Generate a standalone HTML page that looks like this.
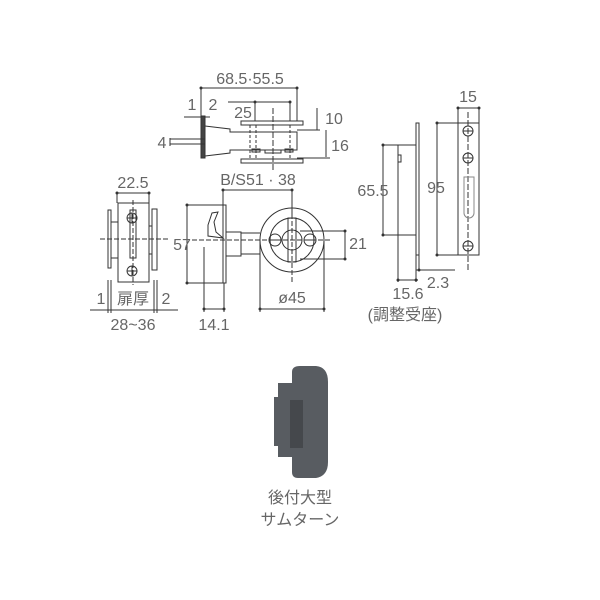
<!DOCTYPE html>
<html><head><meta charset="utf-8"><style>
html,body{margin:0;padding:0;background:#fff}
svg{display:block}
text{font-family:"Liberation Sans","Noto Sans CJK JP",sans-serif;fill:#666;font-size:16px}
</style></head><body>
<svg width="600" height="600" viewBox="0 0 600 600" xmlns="http://www.w3.org/2000/svg">
<g stroke="#333" stroke-width="1" fill="none">
<line x1="201" y1="88" x2="297" y2="88"/><line x1="201" y1="88" x2="201" y2="116"/><line x1="297" y1="88" x2="297" y2="121"/>
<line x1="228" y1="102" x2="290" y2="102"/><line x1="255" y1="102" x2="255" y2="121"/><line x1="290" y1="102" x2="290" y2="121"/>
<line x1="184" y1="117" x2="210" y2="117"/>
<rect x="201" y="116" width="4" height="42" fill="#444"/>
<rect x="170" y="139" width="35" height="5"/>
<rect x="241" y="121" width="62" height="4"/>
<rect x="241" y="159" width="62" height="4"/>
<path d="M205 126 L230 129 L230 132 L297 132 L297 150 L230 150 L230 153 L205 156"/>
<line x1="250" y1="125" x2="250" y2="159" stroke-dasharray="3,2"/><line x1="256" y1="125" x2="256" y2="159" stroke-dasharray="3,2"/>
<line x1="273" y1="108" x2="273" y2="170" stroke-dasharray="6,2"/><line x1="290" y1="125" x2="290" y2="159" stroke-dasharray="3,2"/>
<rect x="252" y="149" width="8" height="3"/><rect x="265" y="150" width="16" height="3"/><rect x="285" y="149" width="8" height="3"/>
<line x1="297" y1="130" x2="320" y2="130"/><line x1="297" y1="158" x2="330" y2="158"/>
<line x1="317" y1="108" x2="317" y2="130"/><line x1="326" y1="130" x2="326" y2="158" stroke="#999" stroke-width="2"/>
<line x1="170" y1="138" x2="170" y2="146"/>
<line x1="117" y1="193" x2="149" y2="193"/><line x1="117" y1="193" x2="117" y2="203"/><line x1="149" y1="193" x2="149" y2="203"/>
<rect x="108" y="210" width="3" height="58"/>
<rect x="111" y="222" width="7" height="36"/>
<rect x="118" y="203" width="31" height="79"/>
<rect x="149" y="226" width="3" height="28"/>
<rect x="152" y="209" width="5" height="61"/>
<rect x="130" y="210" width="6" height="48"/>
<circle cx="132" cy="218" r="5"/><line x1="127" y1="218" x2="137" y2="218"/><line x1="132" y1="213" x2="132" y2="223"/>
<circle cx="132" cy="271" r="5"/><line x1="127" y1="271" x2="137" y2="271"/><line x1="132" y1="266" x2="132" y2="276"/>
<line x1="100" y1="239" x2="168" y2="239" stroke-dasharray="5,2"/>
<line x1="133" y1="200" x2="133" y2="285" stroke-dasharray="5,2"/>
<line x1="108" y1="280" x2="108" y2="313"/><line x1="111" y1="280" x2="111" y2="313"/><line x1="154" y1="280" x2="154" y2="313"/><line x1="157" y1="280" x2="157" y2="313"/>
<line x1="90" y1="310" x2="178" y2="310"/>
<line x1="223" y1="190" x2="292" y2="190"/><line x1="223" y1="190" x2="223" y2="205"/><line x1="292" y1="190" x2="292" y2="215"/>
<rect x="223" y="205" width="3" height="78"/>
<path d="M208 225 L212 213 L218 212 L214 222 L216 232 L223 238 L208 236 Z"/>
<rect x="226" y="232" width="15" height="24"/>
<line x1="241" y1="233" x2="260" y2="233"/><line x1="241" y1="254" x2="260" y2="254"/>
<circle cx="292" cy="240" r="32"/><circle cx="292" cy="240" r="22"/>
<circle cx="292" cy="240" r="10"/>
<rect x="288" y="218" width="8" height="44"/>
<circle cx="275" cy="240" r="6"/><circle cx="310" cy="240" r="6"/>
<line x1="269" y1="240" x2="281" y2="240"/><line x1="304" y1="240" x2="316" y2="240"/>
<line x1="192" y1="240" x2="330" y2="240" stroke-dasharray="5,2"/>
<line x1="292" y1="200" x2="292" y2="282" stroke-dasharray="5,2"/>
<line x1="187" y1="205" x2="223" y2="205"/><line x1="187" y1="283" x2="223" y2="283"/><line x1="187" y1="205" x2="187" y2="283"/>
<line x1="300" y1="231" x2="346" y2="231"/><line x1="300" y1="259" x2="346" y2="259"/><line x1="345" y1="231" x2="345" y2="259"/>
<line x1="260" y1="240" x2="260" y2="312"/><line x1="324" y1="240" x2="324" y2="312"/><line x1="260" y1="309" x2="324" y2="309"/>
<line x1="204" y1="247" x2="204" y2="312"/><line x1="224" y1="283" x2="224" y2="312"/><line x1="204" y1="309" x2="224" y2="309"/>
<rect x="416" y="123" width="3" height="132"/>
<path d="M416 145 L398 145 L398 235 L416 235"/>
<rect x="398" y="155" width="3" height="7"/>
<line x1="383" y1="145" x2="398" y2="145"/><line x1="383" y1="235" x2="398" y2="235"/><line x1="383" y1="145" x2="383" y2="235" stroke="#999" stroke-width="2"/>
<line x1="398" y1="235" x2="398" y2="282"/><line x1="416" y1="255" x2="416" y2="282"/><line x1="419" y1="255" x2="419" y2="270"/>
<line x1="398" y1="280" x2="418" y2="280"/><line x1="416" y1="270" x2="455" y2="270"/>
<line x1="437" y1="123" x2="458" y2="123"/><line x1="437" y1="255" x2="458" y2="255"/><line x1="437" y1="123" x2="437" y2="255"/>
<rect x="458" y="123" width="21" height="132"/>
<line x1="468" y1="112" x2="468" y2="270" stroke-dasharray="6,2"/>
<circle cx="468" cy="131" r="5"/><circle cx="468" cy="158" r="5"/><circle cx="468" cy="246" r="5"/>
<line x1="463" y1="131" x2="473" y2="131"/><line x1="463" y1="158" x2="473" y2="158"/><line x1="463" y1="246" x2="473" y2="246"/>
<path d="M464 177 L474 177 L474 213 A5 5 0 0 1 464 213 Z" stroke="#888"/>
<line x1="458" y1="108" x2="479" y2="108"/><line x1="458" y1="108" x2="458" y2="123"/><line x1="479" y1="108" x2="479" y2="123"/>
</g>
<g fill="#333">
<circle cx="201" cy="88" r="1.5"/><circle cx="297" cy="88" r="1.5"/><circle cx="255" cy="102" r="1.5"/><circle cx="290" cy="102" r="1.5"/>
<circle cx="117" cy="193" r="1.5"/><circle cx="149" cy="193" r="1.5"/><circle cx="223" cy="190" r="1.5"/><circle cx="292" cy="190" r="1.5"/>
<circle cx="187" cy="205" r="1.5"/><circle cx="187" cy="283" r="1.5"/><circle cx="345" cy="231" r="1.5"/><circle cx="345" cy="259" r="1.5"/>
<circle cx="260" cy="309" r="1.5"/><circle cx="324" cy="309" r="1.5"/><circle cx="204" cy="309" r="1.5"/><circle cx="224" cy="309" r="1.5"/>
<circle cx="383" cy="145" r="1.5"/><circle cx="383" cy="235" r="1.5"/><circle cx="437" cy="123" r="1.5"/><circle cx="437" cy="255" r="1.5"/>
<circle cx="458" cy="108" r="1.5"/><circle cx="479" cy="108" r="1.5"/><circle cx="398" cy="280" r="1.5"/><circle cx="416" cy="280" r="1.5"/><circle cx="419" cy="270" r="1.5"/>
</g>
<g text-anchor="middle">
<text x="250" y="84">68.5·55.5</text>
<text x="192" y="110">1</text><text x="213" y="110">2</text>
<text x="243" y="118">25</text>
<text x="162" y="148">4</text>
<text x="334" y="124">10</text><text x="340" y="151">16</text>
<text x="133" y="188">22.5</text>
<text x="258" y="185">B/S51 · 38</text>
<text x="182" y="250">57</text>
<text x="358" y="249">21</text>
<text x="101" y="304">1</text><text x="133" y="304">扉厚</text><text x="166" y="304">2</text>
<text x="292" y="303">ø45</text>
<text x="133" y="330">28~36</text>
<text x="214" y="330">14.1</text>
<text x="373" y="196">65.5</text>
<text x="436" y="193">95</text>
<text x="468" y="102">15</text>
<text x="438" y="288">2.3</text>
<text x="408" y="299">15.6</text>
<text x="405" y="320">(調整受座)</text>
<text x="300" y="503">後付大型</text>
<text x="300" y="525">サムターン</text>
</g>
<path d="M278 383 L292 383 L292 372 Q292 366 300 366 L316 366 Q328 367 328 382 L328 462 Q328 476 316 478 L298 478 Q292 478 292 472 L292 457 L278 457 L278 446 L274 446 L274 397 L278 397 Z" fill="#585c61"/>
<rect x="290" y="400" width="13" height="48" fill="#45484c"/>
</svg>
</body></html>
